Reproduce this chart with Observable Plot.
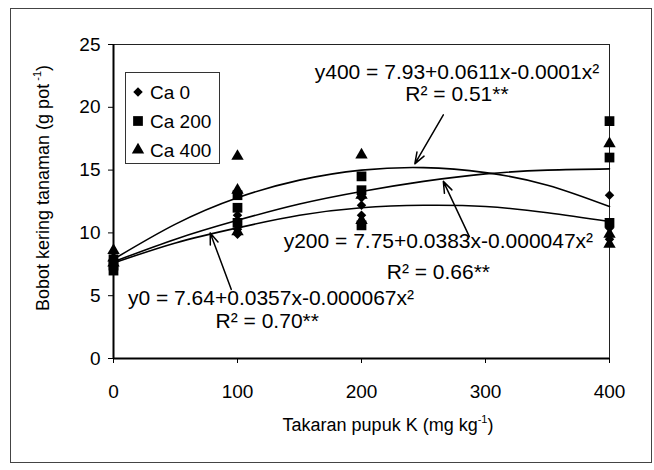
<!DOCTYPE html>
<html><head><meta charset="utf-8">
<script src="https://cdn.jsdelivr.net/npm/d3@7"></script>
<script src="https://cdn.jsdelivr.net/npm/@observablehq/plot@0.6"></script>
<style>
body{margin:0;background:#fff;font-family:"Liberation Sans",Arial,sans-serif;color:#000;}
#wrap{position:relative;width:654px;height:470px;overflow:hidden;background:#fff;}
#wrap svg.plot{position:absolute;left:0;top:0;}
#outer{position:absolute;left:10px;top:8px;width:642px;height:455px;border:1px solid #444;box-sizing:border-box;pointer-events:none;}
.ttl{position:absolute;white-space:nowrap;font-size:18px;line-height:1;}
.ttl sup{font-size:11px;vertical-align:0;position:relative;top:-8px;}
#xt{left:388px;top:425px;transform:translate(-50%,-50%);}
#yt{left:43px;top:188px;transform:translate(-50%,-50%) rotate(-90deg);}
#legend{position:absolute;left:125px;top:72px;}
</style></head><body>
<div id="wrap">
  <div id="outer"></div>
  <div class="ttl" id="xt">Takaran pupuk K (mg kg<sup>-1</sup>)</div>
  <div class="ttl" id="yt">Bobot kering tanaman (g pot<sup> -1</sup>)</div>
</div>
<script>
// ---- data ----
const seriesNames = ["Ca 0", "Ca 200", "Ca 400"];
const doseK = [0,0,0, 100,100,100, 200,200,200, 400,400,400];
const ca0Obs   = [7.5,7.8,7.3,  11.4,10.3,9.9,  12.8,12.2,11.4,  13.0,10.4,9.5];
const ca200Obs = [7.0,7.4,7.9,  13.0,10.8,12.0, 14.5,13.4,10.6,  18.9,16.0,10.8];
const ca400Obs = [8.6,8.0,7.6,  16.1,13.4,10.1, 16.2,13.0,11.0,  17.1,9.9,9.1];

const curveK  = [0,50,100,150,200,250,300,350,400];
const fit0    = [7.6,9.2,10.4,11.4,12.0,12.2,12.1,11.6,10.9];
const fit200  = [7.7,9.5,11.0,12.3,13.3,14.1,14.7,15.0,15.1];
const fit400  = [7.9,10.7,12.8,14.2,15.0,15.2,14.8,13.8,12.1];

const xTicks = [0,100,200,300,400];
const yTicks = [0,5,10,15,20,25];

const eqTexts = ["y400 = 7.93+0.0611x-0.0001x²", "R² = 0.51**",
                 "y200 = 7.75+0.0383x-0.000047x²", "R² = 0.66**",
                 "y0 = 7.64+0.0357x-0.000067x²", "R² = 0.70**"];
const eqX = [277, 277, 262, 262, 127, 124];
const eqY = [22.8, 21.0, 9.3, 6.85, 4.8, 3.0];

const arrowFromX = [266, 287, 95];
const arrowFromY = [19.4, 9.7, 5.5];
const arrowToX   = [243, 266, 78];
const arrowToY   = [15.5, 14.1, 10.0];

// ---- build tables ----
const obs = (vals) => vals.map((v, i) => ({x: doseK[i], y: v}));
const fits = [fit0, fit200, fit400].flatMap((arr, s) =>
  arr.map((v, i) => ({x: curveK[i], y: v, s: seriesNames[s]})));
const eqs = eqTexts.map((t, i) => ({t, x: eqX[i], y: eqY[i]}));
const arrows = arrowFromX.map((d, i) => ({x1: d, y1: arrowFromY[i], x2: arrowToX[i], y2: arrowToY[i]}));

const chart = Plot.plot({
  width: 654, height: 470,
  marginLeft: 113, marginRight: 45, marginTop: 44, marginBottom: 112,
  style: {fontFamily: '"Liberation Sans", Arial, sans-serif', fontSize: "19px", background: "transparent", color: "#000"},
  x: {domain: [0, 400]},
  y: {domain: [0, 25]},
  marks: [
    Plot.frame({stroke: "#222", strokeWidth: 1}),
    Plot.axisX({ticks: xTicks, tickSize: 5, tickPadding: 21, label: null, fontSize: 19}),
    Plot.axisY({ticks: yTicks, tickSize: 5, tickPadding: 8, label: null, fontSize: 19}),
    Plot.ruleX([0], {stroke: "#000", strokeWidth: 2}),
    Plot.ruleY([0], {stroke: "#000", strokeWidth: 2}),
    Plot.line(fits, {x: "x", y: "y", z: "s", curve: "natural", stroke: "#000", strokeWidth: 1.6}),
    Plot.dot(obs(ca0Obs), {x: "x", y: "y", symbol: "diamond2", r: 4.3, fill: "#000", stroke: "none"}),
    Plot.dot(obs(ca200Obs), {x: "x", y: "y", symbol: "square", r: 5.5, fill: "#000", stroke: "none"}),
    Plot.dot(obs(ca400Obs), {x: "x", y: "y", symbol: "triangle", r: 4.6, fill: "#000", stroke: "none"}),
    Plot.arrow(arrows, {x1: "x1", y1: "y1", x2: "x2", y2: "y2", stroke: "#000", strokeWidth: 1.5, headLength: 12, headAngle: 40}),
    Plot.text(eqs, {x: "x", y: "y", text: "t", fontSize: 21, textAnchor: "middle", fill: "#000"})
  ]
});
chart.classList.add("plot");
const wrap = document.getElementById("wrap");
wrap.insertBefore(chart, wrap.firstChild);

// ---- legend ----
const legW = 95, legH = 92;
const leg = d3.select("#wrap").append("svg").attr("id", "legend")
  .attr("width", legW).attr("height", legH);
leg.append("rect").attr("x", 0.5).attr("y", 0.5).attr("width", legW - 1).attr("height", legH - 1)
  .attr("fill", "#fff").attr("stroke", "#333");
const legSym = [d3.symbolDiamond2, d3.symbolSquare, d3.symbolTriangle];
const legR = [4.3, 5.5, 4.6];
seriesNames.forEach((name, i) => {
  const cy = 20 + i * 29;
  leg.append("path").attr("transform", `translate(13,${cy})`)
    .attr("d", d3.symbol(legSym[i], Math.PI * legR[i] * legR[i])()).attr("fill", "#000");
  leg.append("text").attr("x", 25).attr("y", cy).attr("dy", "0.35em")
    .attr("font-size", 19).attr("font-family", '"Liberation Sans", Arial, sans-serif').text(name);
});
</script>
</body></html>
